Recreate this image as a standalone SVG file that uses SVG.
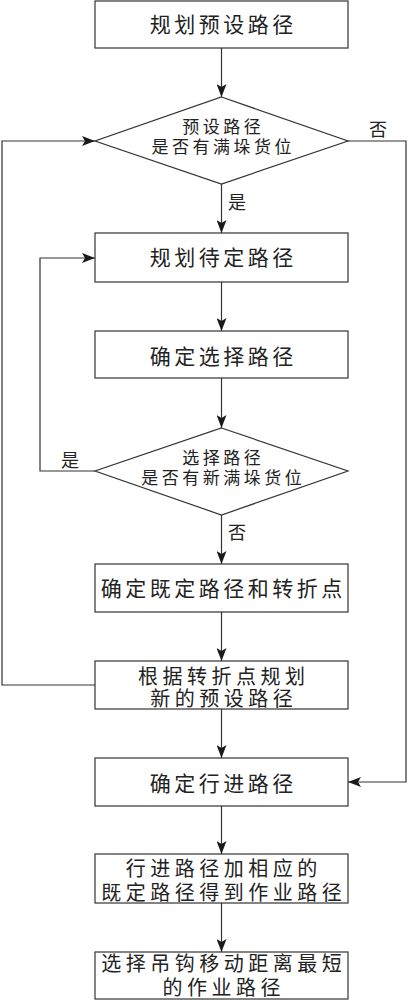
<svg xmlns="http://www.w3.org/2000/svg" width="408" height="1000" viewBox="0 0 408 1000">
<defs>
<marker id="arr" markerWidth="13" markerHeight="10" refX="13" refY="5" orient="auto" markerUnits="userSpaceOnUse">
<path d="M0,0 L13,5 L0,10 L3,5 Z" fill="#1a1a1a"/>
</marker>
<style>
.box{fill:#fff;stroke:#333;stroke-width:1.2}
.t{font-family:"Noto Sans CJK SC","Noto Sans CJK JP",sans-serif;font-size:21px;fill:#222;text-anchor:middle;letter-spacing:3.5px}
.t2{font-family:"Noto Sans CJK SC","Noto Sans CJK JP",sans-serif;font-size:20px;fill:#222;text-anchor:middle;letter-spacing:4.5px}
.d{font-family:"Noto Sans CJK SC","Noto Sans CJK JP",sans-serif;font-size:17px;fill:#222;text-anchor:middle;letter-spacing:3.5px}
.l{font-family:"Noto Sans CJK SC","Noto Sans CJK JP",sans-serif;font-size:18px;fill:#222;text-anchor:middle}
.c{fill:none;stroke:#333;stroke-width:1.2}
</style>
</defs>
<rect width="408" height="1000" fill="#fff"/>
<g id="connectors">
<line class="c" x1="221.5" y1="48" x2="221.5" y2="97" marker-end="url(#arr)"/>
<line class="c" x1="221.5" y1="184" x2="221.5" y2="233" marker-end="url(#arr)"/>
<line class="c" x1="221.5" y1="282" x2="221.5" y2="331" marker-end="url(#arr)"/>
<line class="c" x1="221.5" y1="378" x2="221.5" y2="428" marker-end="url(#arr)"/>
<line class="c" x1="221.5" y1="515" x2="221.5" y2="564" marker-end="url(#arr)"/>
<line class="c" x1="221.5" y1="612" x2="221.5" y2="661" marker-end="url(#arr)"/>
<line class="c" x1="221.5" y1="709" x2="221.5" y2="758" marker-end="url(#arr)"/>
<line class="c" x1="221.5" y1="806" x2="221.5" y2="854" marker-end="url(#arr)"/>
<line class="c" x1="221.5" y1="903" x2="221.5" y2="952" marker-end="url(#arr)"/>
<polyline class="c" points="348,141 406,141 406,782 348,782" marker-end="url(#arr)"/>
<polyline class="c" points="95,685 2,685 2,141 95,141" marker-end="url(#arr)"/>
<polyline class="c" points="95,471 40,471 40,258 95,258" marker-end="url(#arr)"/>
<text class="l" x="378" y="135.5">否</text>
<text class="l" x="237" y="208.5">是</text>
<text class="l" x="70" y="466.5">是</text>
<text class="l" x="237" y="538.5">否</text>
</g>
<g id="n1"><rect class="box" x="95" y="1" width="253" height="47"/><text class="t" x="223.2" y="32">规划预设路径</text></g>
<g id="n2"><polygon class="box" points="221.5,97 348,141 221.5,184 95,141"/><text class="d" x="223.2" y="133">预设路径</text><text class="d" x="223.2" y="152.5">是否有满垛货位</text></g>
<g id="n3"><rect class="box" x="95" y="233" width="253" height="49"/><text class="t" x="223.2" y="265">规划待定路径</text></g>
<g id="n4"><rect class="box" x="95" y="331" width="253" height="47"/><text class="t" x="223.2" y="364">确定选择路径</text></g>
<g id="n5"><polygon class="box" points="221.5,428 348,471 221.5,515 95,471"/><text class="d" x="223.2" y="464">选择路径</text><text class="d" x="223.2" y="483.5">是否有新满垛货位</text></g>
<g id="n6"><rect class="box" x="95" y="564" width="253" height="48"/><text class="t" x="223.2" y="596">确定既定路径和转折点</text></g>
<g id="n7"><rect class="box" x="95" y="661" width="253" height="48"/><text class="t2" x="223.7" y="684">根据转折点规划</text><text class="t2" x="223.7" y="705.5">新的预设路径</text></g>
<g id="n8"><rect class="box" x="95" y="758" width="253" height="48"/><text class="t" x="223.2" y="791">确定行进路径</text></g>
<g id="n9"><rect class="box" x="95" y="854" width="253" height="49"/><text class="t2" x="223.7" y="875.5">行进路径加相应的</text><text class="t2" x="223.7" y="899.5">既定路径得到作业路径</text></g>
<g id="n10"><rect class="box" x="95" y="952" width="253" height="47"/><text class="t2" x="223.7" y="970.5">选择吊钩移动距离最短</text><text class="t2" x="223.7" y="994.5">的作业路径</text></g>
</svg>
